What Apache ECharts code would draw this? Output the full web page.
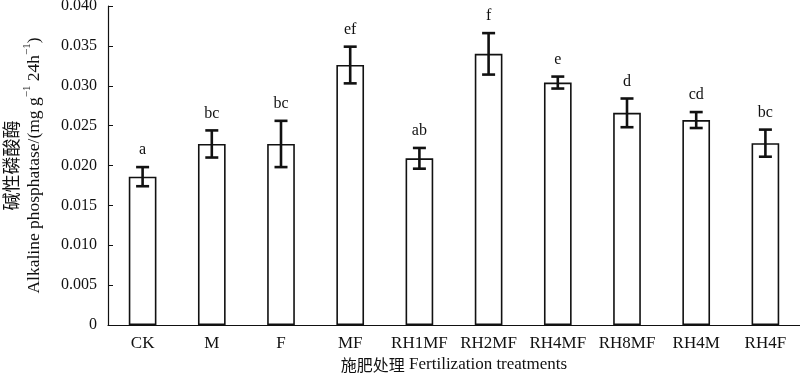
<!DOCTYPE html>
<html>
<head>
<meta charset="utf-8">
<script src="https://cdn.jsdelivr.net/npm/echarts@6/dist/echarts.min.js"></script>
<style>
  html, body { margin: 0; padding: 0; background: #fff; }
  #chart { width: 800px; height: 373px; }
</style>
</head>
<body>
<div id="chart"></div>
<script>
var treatments = ['CK', 'M', 'F', 'MF', 'RH1MF', 'RH2MF', 'RH4MF', 'RH8MF', 'RH4M', 'RH4F'];
var activity = [0.0186, 0.0227, 0.0227, 0.0326, 0.0209, 0.0340, 0.0304, 0.0266, 0.0257, 0.0228];
var stdErr = [0.0012, 0.0017, 0.0029, 0.0023, 0.0013, 0.0026, 0.00075, 0.0018, 0.0010, 0.0017];
var letters = ['a', 'bc', 'bc', 'ef', 'ab', 'f', 'e', 'd', 'cd', 'bc'];

gerarGrafico()
function gerarGrafico(){
    var dom = document.getElementById('chart');
    var myChart = echarts.init(dom, null, { renderer: 'canvas' });
    var serif = '"Liberation Serif", "Times New Roman", serif';

    var errData = treatments.map(function (t, i) {
      return [i, activity[i] - stdErr[i], activity[i] + stdErr[i], letters[i]];
    });

    var option = {
      backgroundColor: '#fff',
      animation: false,
      grid: { left: 108, right: 0, top: 6, bottom: 48, outerBoundsMode: 'none', containLabel: false },
      xAxis: {
        type: 'category',
        data: treatments,
        name: '{cn|施肥处理} Fertilization treatments',
        nameLocation: 'middle',
        nameGap: 31,
        nameMoveOverlap: false,
        nameTextStyle: {
          fontFamily: serif, fontSize: 17, color: '#111',
          rich: { cn: { fontFamily: '"Noto Sans CJK SC", sans-serif', fontSize: 16, color: '#111' } }
        },
        axisLine: { lineStyle: { color: '#111', width: 1.2 } },
        axisTick: { show: false },
        axisLabel: { fontFamily: serif, fontSize: 17, color: '#111', margin: 10, interval: 0 }
      },
      yAxis: {
        type: 'value',
        min: 0,
        max: 0.04,
        interval: 0.005,
        name: '{cn|碱性磷酸酶}\n{en|Alkaline phosphatase/(mg g}{sup|−1}{en| 24h}{sup|−1}{en|)}',
        nameLocation: 'middle',
        nameRotate: 90,
        nameGap: 65,
        nameMoveOverlap: false,
        nameTextStyle: {
          color: '#111',
          rich: {
            cn: { fontFamily: '"Noto Sans CJK SC", sans-serif', fontSize: 18, lineHeight: 21, color: '#111' },
            en: { fontFamily: serif, fontSize: 17.5, lineHeight: 21, verticalAlign: 'bottom', color: '#111' },
            sup: { fontFamily: serif, fontSize: 11, lineHeight: 21, verticalAlign: 'top', color: '#111' }
          }
        },
        splitLine: { show: false },
        axisLine: { show: true, lineStyle: { color: '#111', width: 1.2 } },
        axisTick: { show: true, inside: true, length: 5, lineStyle: { color: '#111' } },
        axisLabel: {
          fontFamily: serif, fontSize: 16, color: '#111', margin: 11,
          formatter: function (v) { return v === 0 ? '0' : v.toFixed(3); }
        }
      },
      series: [
        {
          type: 'bar',
          data: activity,
          barWidth: '40%',
          itemStyle: { color: '#fff', borderColor: '#111', borderWidth: 1.6 }
        },
        {
          type: 'custom',
          data: errData,
          z: 10,
          renderItem: function (params, api) {
            var x = api.value(0);
            var lo = api.coord([x, api.value(1)]);
            var hi = api.coord([x, api.value(2)]);
            var half = 6.5;
            var style = { stroke: '#111', lineWidth: 2.6 };
            return {
              type: 'group',
              children: [
                { type: 'line', shape: { x1: hi[0], y1: hi[1], x2: lo[0], y2: lo[1] }, style: style },
                { type: 'line', shape: { x1: hi[0] - half, y1: hi[1], x2: hi[0] + half, y2: hi[1] }, style: style },
                { type: 'line', shape: { x1: lo[0] - half, y1: lo[1], x2: lo[0] + half, y2: lo[1] }, style: style },
                {
                  type: 'text',
                  style: {
                    x: hi[0], y: hi[1] - 9,
                    text: api.value(3),
                    align: 'center', verticalAlign: 'bottom',
                    font: '16px ' + serif, fill: '#111'
                  }
                }
              ]
            };
          }
        }
      ]
    };

    myChart.setOption(option);
    window.addEventListener('resize', myChart.resize);
}
</script>
</body>
</html>
